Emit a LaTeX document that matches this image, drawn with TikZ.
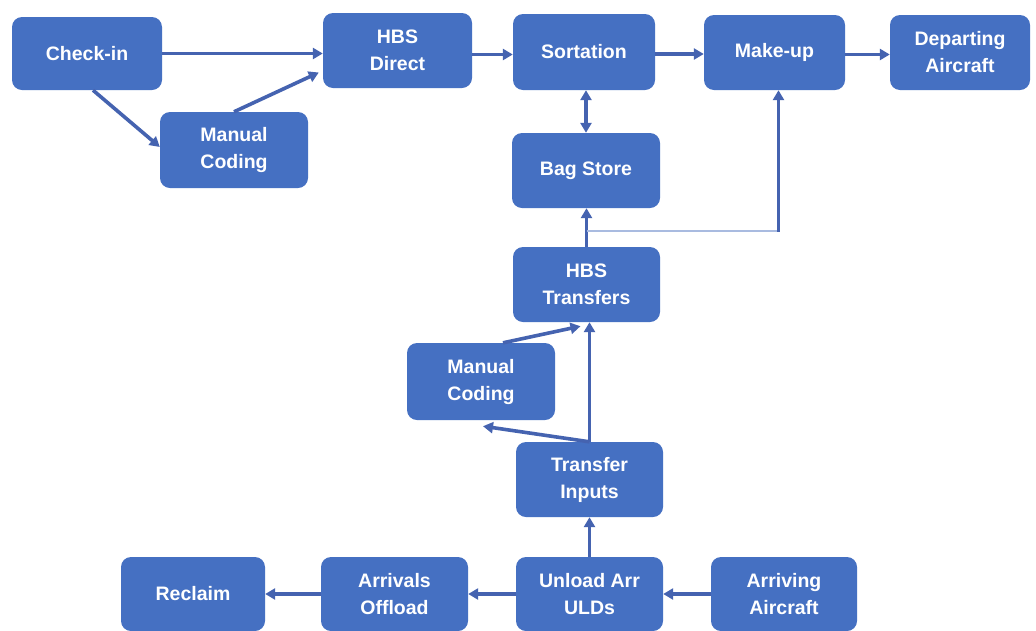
\documentclass[tikz,border=0pt]{standalone}
\usepackage{fontspec}
\setmainfont{Liberation Sans}
\usetikzlibrary{arrows.meta,calc}
\definecolor{boxblue}{HTML}{4570C2}
\definecolor{lineblue}{HTML}{4563B0}
\definecolor{paleline}{HTML}{A9BBE0}
\begin{document}
\begin{tikzpicture}[x=1pt,y=-1pt,
  procbox/.style={draw=none,fill=boxblue,rounded corners=10pt,text=white,
    font=\fontsize{19.5}{27}\selectfont\bfseries,align=center,inner sep=0pt},
  conn/.style={draw=lineblue,line width=3.6pt,-{Triangle[length=10pt,width=11pt]}},
  dconn/.style={draw=lineblue,line width=3.6pt,{Triangle[length=10pt,width=11pt]}-{Triangle[length=10pt,width=11pt]}},
  pale/.style={draw=paleline,line width=2pt}]
\useasboundingbox (0,0) rectangle (1036,630);
\fill[white] (0,0) rectangle (1036,630);
% nodes
\node[procbox,minimum width=150pt,minimum height=73pt] (checkin) at (87,53.5) {Check-in};
\node[procbox,minimum width=149pt,minimum height=75pt] (hbsd) at (397.5,50.5) {HBS\\Direct};
\node[procbox,minimum width=148pt,minimum height=76pt] (mc1) at (234,150) {Manual\\Coding};
\node[procbox,minimum width=142pt,minimum height=76pt] (sort) at (584,52) {Sortation};
\node[procbox,minimum width=141pt,minimum height=75pt] (makeup) at (774.5,52.5) {Make-up};
\node[procbox,minimum width=140pt,minimum height=75pt] (dep) at (960,52.5) {Departing\\Aircraft};
\node[procbox,minimum width=148pt,minimum height=75pt] (bag) at (586,170.5) {Bag Store};
\node[procbox,minimum width=147pt,minimum height=75pt] (hbst) at (586.5,284.5) {HBS\\Transfers};
\node[procbox,minimum width=148pt,minimum height=77pt] (mc2) at (481,381.5) {Manual\\Coding};
\node[procbox,minimum width=147pt,minimum height=75pt] (ti) at (589.5,479.5) {Transfer\\Inputs};
\node[procbox,minimum width=147pt,minimum height=74pt] (unload) at (589.5,594) {Unload Arr\\ULDs};
\node[procbox,minimum width=146pt,minimum height=74pt] (arr) at (784,594) {Arriving\\Aircraft};
\node[procbox,minimum width=147pt,minimum height=74pt] (off) at (394.5,594) {Arrivals\\Offload};
\node[procbox,minimum width=144pt,minimum height=74pt] (reclaim) at (193,594) {Reclaim};
% connectors
\draw[conn] (checkin.east) -- (checkin.east -| hbsd.west);
\draw[conn] ($(checkin.south)+(6,0)$) -- ($(mc1.west)+(0,-3)$);
\draw[conn] (mc1.north) -- ($(hbsd.west)+(-4,22)$);
\draw[conn] ($(hbsd.east)+(0,4)$) -- ($(hbsd.east -| sort.west)+(0,4)$);
\draw[conn] ($(sort.east)+(0,2)$) -- ($(sort.east -| makeup.west)+(0,2)$);
\draw[conn] ($(makeup.east)+(0,2)$) -- ($(makeup.east -| dep.west)+(0,2)$);
\draw[dconn] (bag.north) -- (bag.north |- sort.south);
\draw[conn] (hbst.north) -- (hbst.north |- bag.south);
\coordinate (jn) at ($(hbst.north)+(0,-16)$);
\coordinate (jc) at ($(makeup.south |- jn)+(4,0)$);
\draw[pale] (jn) -- (jc);
\draw[conn] ($(jc)+(0,1)$) -- (jc |- makeup.south);
\draw[conn] (ti.north) -- (ti.north |- hbst.south);
\draw[conn] (ti.north) -- ($(mc2.south)+(2,6)$);
\draw[conn] ($(mc2.north)+(22,0)$) -- ($(hbst.south)+(-6,4)$);
\draw[conn] (unload.north) -- (unload.north |- ti.south);
\draw[conn] (arr.west) -- (arr.west -| unload.east);
\draw[conn] (unload.west) -- (unload.west -| off.east);
\draw[conn] (off.west) -- (off.west -| reclaim.east);
\end{tikzpicture}
\end{document}
